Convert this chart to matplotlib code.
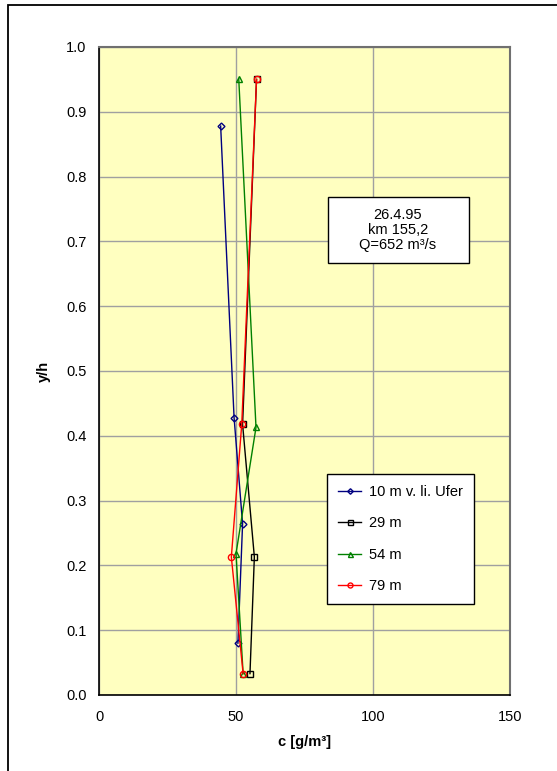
import matplotlib
matplotlib.use('Agg')
from matplotlib import pyplot as plt
from matplotlib.patches import Rectangle

plt.rcParams['font.family'] = ['Liberation Sans', 'DejaVu Sans']

# Messprofile: Konzentration c [g/m3] ueber relativer Tiefe y/h
y_10 = [0.878, 0.428, 0.264, 0.080]
c_10 = [44.4, 49.3, 52.4, 50.7]
y_29 = [0.950, 0.418, 0.213, 0.033]
c_29 = [57.5, 52.4, 56.7, 55.1]
y_54 = [0.951, 0.413, 0.218, 0.033]
c_54 = [51.0, 57.3, 50.0, 52.6]
y_79 = [0.950, 0.418, 0.213, 0.033]
c_79 = [57.5, 52.1, 48.3, 52.6]
labels = ['10 m v. li. Ufer', '29 m', '54 m', '79 m']

W, H = 557, 771
fs = 10.5
fig = plt.figure(figsize=(W / 100, H / 100), dpi=100)
fig.patch.set_facecolor('white')
# Rahmen um das Diagramm
fig.patches.append(Rectangle((8 / W, -0.1), 1.2, 1 - 5 / H + 0.1,
                             transform=fig.transFigure, fill=False,
                             edgecolor='black', linewidth=1.3))

ax = fig.add_axes([99 / W, 1 - 695 / H, 411 / W, 648 / H])
ax.set_facecolor('#FFFFC0')

ms = 4.5
ax.plot(c_10, y_10, color='#000080', lw=1, marker='D', ms=3.5, mfc='none', mew=1, label=labels[0])
ax.plot(c_29, y_29, color='black', lw=1, marker='s', ms=ms, mfc='none', mew=1, label=labels[1])
ax.plot(c_54, y_54, color='#008000', lw=1, marker='^', ms=ms, mfc='none', mew=1, label=labels[2])
ax.plot(c_79, y_79, color='red', lw=1, marker='o', ms=ms, mfc='none', mew=1, label=labels[3])

ax.set_xlim(0, 150)
ax.set_ylim(0, 1.0)
ax.set_xticks([0, 50, 100, 150])
ax.set_yticks([i / 10 for i in range(11)])
ax.set_yticklabels(['{:.1f}'.format(i / 10) for i in range(11)])
ax.grid(True, color='#a0a0a0', lw=1)
ax.set_axisbelow(True)
ax.tick_params(length=0, labelsize=fs, pad=9)
ax.tick_params(axis='x', pad=11)
for s in ['left', 'bottom']:
    ax.spines[s].set_color('black')
    ax.spines[s].set_linewidth(1.2)
for s in ['top', 'right']:
    ax.spines[s].set_color('#707070')
    ax.spines[s].set_linewidth(1.5)

ax.set_xlabel('c [g/m³]', fontsize=fs, fontweight='bold', labelpad=8)
ax.set_ylabel('y/h', fontsize=fs, fontweight='bold', labelpad=11)

leg = ax.legend(loc='upper left', bbox_to_anchor=((327 - 99) / 411, (695 - 474) / 648),
                fontsize=fs, frameon=True, fancybox=False, edgecolor='black',
                framealpha=1, borderpad=0.75, labelspacing=1.2, handlelength=1.6,
                handletextpad=0.55, borderaxespad=0, markerscale=0.8)
leg.get_frame().set_linewidth(1.0)

# Textfeld mit Messdatum, Ort und Abfluss
tx = ax.transAxes
ax.add_patch(Rectangle(((328 - 99) / 411, (695 - 263) / 648), 141 / 411, 66 / 648,
                       transform=tx, facecolor='white', edgecolor='black', lw=1.0, zorder=4))
ax.text((398 - 99) / 411, (695 - 230) / 648, '26.4.95\nkm 155,2\nQ=652 m³/s',
        transform=tx, ha='center', va='center', fontsize=fs, linespacing=1.1, zorder=5)

plt.savefig('out.png', dpi=100)
